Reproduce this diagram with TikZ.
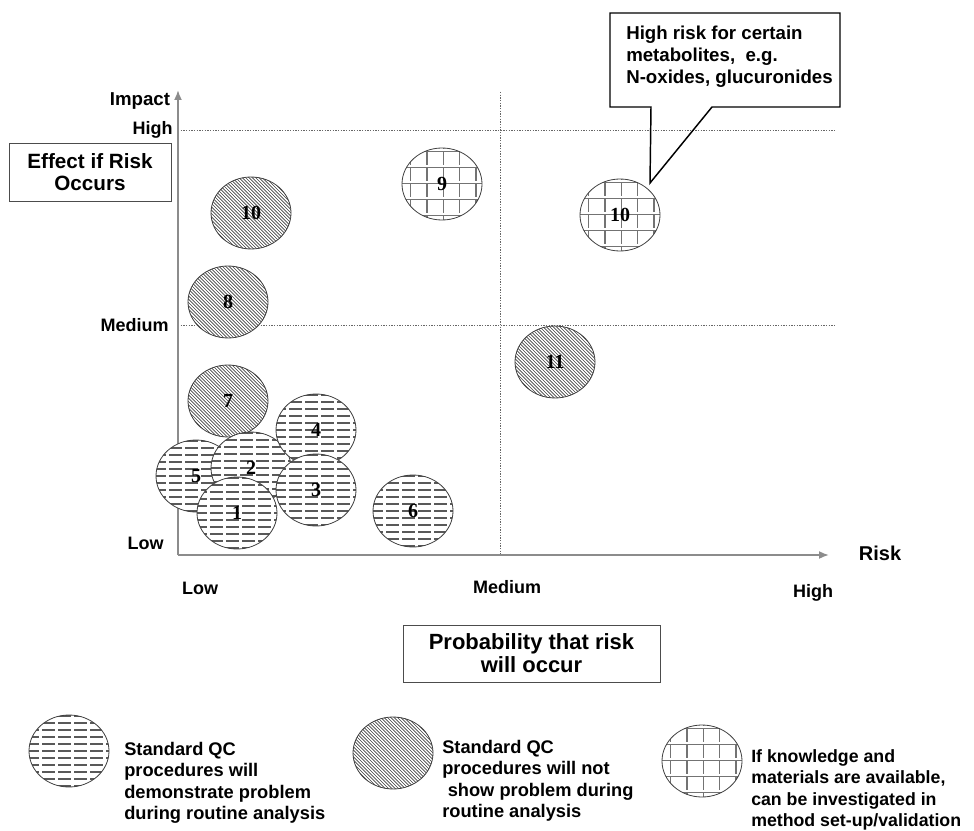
\documentclass[tikz,border=0pt]{standalone}
\usepackage{fontspec}
\setmainfont{Liberation Serif}
\newfontfamily\arialf{Liberation Sans}
\usetikzlibrary{shapes.geometric,arrows.meta}
\tikzset{
  blob/.style={ellipse, draw=black!75, line width=0.6pt, fill=white,
    minimum width=60pt, minimum height=54pt, inner sep=0pt,
    font=\bfseries\fontsize{15}{15}\selectfont},
  hzblob/.style={blob, path picture={
    \foreach \k in {-6,...,6}{
      \draw[black!65, line width=1pt, dash pattern=on 9.5pt off 2.5pt, dash phase=1pt]
        ([xshift=-31pt,yshift=\k*5.25pt]path picture bounding box.center) -- ++(62pt,0);}}},
  hatchblob/.style={blob, path picture={
    \foreach \k in {-40,...,40}{
      \draw[black!75, line width=0.5pt]
        ([xshift=\k*2.5pt-35pt,yshift=35pt]path picture bounding box.center) -- ++(70pt,-70pt);}}},
  gridblob/.style={blob, path picture={
    \foreach \k in {-4,...,4}{
      \draw[black!55, line width=1.1pt]
        ([xshift=-35pt,yshift=\k*12pt+0.5pt]path picture bounding box.center) -- ++(70pt,0);
      \draw[black!55, line width=1.1pt, dash pattern=on 10pt off 2pt]
        ([xshift=\k*12.3pt+1pt,yshift=48.5pt]path picture bounding box.center) -- ++(0,-100pt);}}},
  lab/.style={font=\arialf\bfseries\fontsize{13.5}{14}\selectfont, inner sep=0pt},
  boxlab/.style={draw=black!70, line width=0.7pt, align=center, inner sep=0pt},
  legtext/.style={anchor=north west, align=left, inner sep=0pt,
    font=\arialf\bfseries\fontsize{13.7}{16.1}\selectfont},
  axis/.style={draw=black!45, line width=1.3pt, -{Latex[length=7.5pt,width=6pt]}},
  guide/.style={draw=black!60, line width=0.5pt, dash pattern=on 1pt off 1pt}
}
\begin{document}
\begin{tikzpicture}[x=0.75pt,y=-0.75pt]
\useasboundingbox (0,0) rectangle (974,831);
% guide lines
\coordinate (hl) at (178,130); \coordinate (hr) at (835,130);
\coordinate (ml) at (178,325); \coordinate (mr) at (835,325);
\coordinate (vt) at (500,92);  \coordinate (vb) at (500,555);
\draw[guide] (hl) -- (hr);
\draw[guide] (ml) -- (mr);
\draw[guide] (vt) -- (vb);
% axes
\coordinate (O) at (178,555);
\coordinate (ytop) at (178,90);
\coordinate (xend) at (829,555);
\draw[axis] (O) -- (ytop);
\draw[axis] (O) -- (xend);
% axis labels
\node[lab, font=\arialf\bfseries\fontsize{14}{14}\selectfont] (impact) at (140,101) {Impact};
\node[lab, anchor=east] (yhigh) at (173,130) {High};
\node[lab, anchor=east] (ymed) at (169,325) {Medium};
\node[lab, anchor=east] (ylow) at (164,543) {Low};
\node[lab] (xlow) at (200,588) {Low};
\node[lab] (xmed) at (507,587) {Medium};
\node[lab] (xhigh) at (813,593) {High};
\node[lab, font=\arialf\bfseries\fontsize{15}{15}\selectfont] (risk) at (880,553) {Risk};
% boxes
\node[boxlab, minimum width=121.5pt, minimum height=43.5pt,
  font=\arialf\bfseries\fontsize{15.5}{16}\selectfont] (effect) at (90,172) {Effect if Risk\\Occurs};
\node[boxlab, minimum width=192.75pt, minimum height=42.75pt,
  font=\arialf\bfseries\fontsize{16.5}{17.2}\selectfont] (prob) at (531.5,653.5) {Probability that risk\\will occur};
% circles
\node[hatchblob] (c10a) at (251,213) {10};
\node[hatchblob] (c8) at (228,302) {8};
\node[hatchblob] (c7) at (228,401) {7};
\node[hatchblob] (c11) at (555,362) {11};
\node[gridblob] (c9) at (442,184) {9};
\node[gridblob] (c10b) at (620,215) {10};
\node[hzblob] (c5) at (196,476) {5};
\node[hzblob] (c2) at (251,468) {2};
\node[hzblob] (c4) at (316,430) {4};
\node[hzblob] (c3) at (316,490) {3};
\node[hzblob] (c1) at (237,513) {1};
\node[hzblob] (c6) at (413,511) {6};
% callout
\coordinate (tip) at (650,183);
\draw[black, line width=1.1pt] (651,107) -- (tip) -- (712,107) -- (840,107) -- (840,13) -- (610,13) -- (610,107) -- cycle;
\node[legtext, font=\arialf\bfseries\fontsize{14}{16.5}\selectfont] (calltext) at (626,26)
  {High risk for certain\\metabolites,\ \ e.g.\\N-oxides, glucuronides};
% legend
\node[hzblob] (l1) at (69,751) {};
\node[legtext] (t1) at (124,742) {Standard QC\\procedures will\\demonstrate problem\\during routine analysis};
\node[hatchblob] (l2) at (393,753) {};
\node[legtext] (t2) at (442,740) {Standard QC\\procedures will not\\\hspace*{0.3em}show problem during\\routine analysis};
\node[gridblob] (l3) at (702,761) {};
\node[legtext, font=\arialf\bfseries\fontsize{13.3}{16.1}\selectfont] (t3) at (751,749) {If knowledge and\\materials are available,\\can be investigated in\\method set-up/validation};
\end{tikzpicture}
\end{document}
